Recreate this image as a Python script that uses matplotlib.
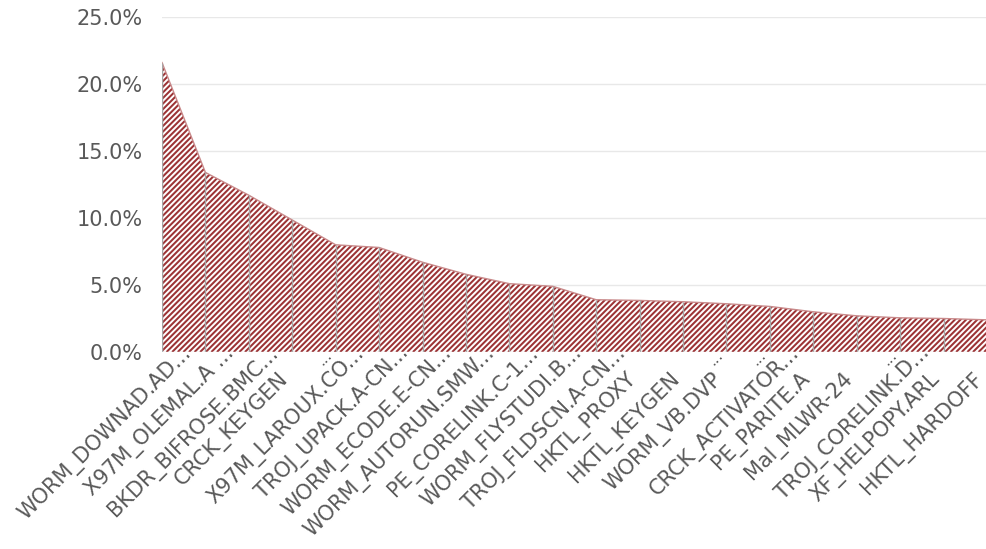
import numpy as np
import matplotlib.pyplot as plt
from matplotlib.collections import LineCollection
from matplotlib.ticker import PercentFormatter
from matplotlib.transforms import blended_transform_factory, ScaledTranslation

labels = ['WORM_DOWNAD.AD...', 'X97M_OLEMAL.A ...', 'BKDR_BIFROSE.BMC...',
          'CRCK_KEYGEN', 'X97M_LAROUX.CO...', 'TROJ_UPACK.A-CN...',
          'WORM_ECODE.E-CN...', 'WORM_AUTORUN.SMW...', 'PE_CORELINK.C-1...',
          'WORM_FLYSTUDI.B...', 'TROJ_FLDSCN.A-CN...', 'HKTL_PROXY',
          'HKTL_KEYGEN', 'WORM_VB.DVP', 'CRCK_ACTIVATOR...', 'PE_PARITE.A',
          'Mal_MLWR-24', 'TROJ_CORELINK.D...', 'XF_HELPOPY.ARL', 'HKTL_HARDOFF']
share = [21.6, 13.4, 11.7, 9.85, 8.0, 7.8, 6.7, 5.8, 5.1, 4.9,
         3.9, 3.85, 3.75, 3.6, 3.4, 3.0, 2.7, 2.55, 2.5, 2.4]
# labels whose wrapped first line only shows "..."
cut_lines = [4, 13, 14, 17]

red = '#9c3335'
grey_txt = '#595959'

W, H = 987, 549
ax_l, ax_b, ax_t = 162, 352, 17
fig = plt.figure(figsize=(W / 100, H / 100), dpi=100)
ax = fig.add_axes([ax_l / W, 1 - ax_b / H, 1 - ax_l / W, (ax_b - ax_t) / H])
aw, ah = W - ax_l, ax_b - ax_t  # axes size in px

x = np.arange(len(share))
y = np.array(share)

# horizontal gridlines
for v in np.arange(5, 26, 5):
    ax.axhline(v, color='#e8e8e8', lw=1, zorder=0)

area = ax.fill_between(x, 0, y, facecolor='white', linewidth=0, zorder=2)

# diagonal stripes (45 deg on screen), clipped to the area
step = 5.6 / aw
starts = np.arange(-0.05, 1 + ah / aw + 0.05, step)
segs = [[(s0, 1.0), (s0 - ah / aw, 0.0)] for s0 in starts]
stripes = LineCollection(segs, colors=red, linewidths=1.45,
                         transform=ax.transAxes, zorder=2.5)
ax.add_collection(stripes)
stripes.set_clip_path(area.get_paths()[0], ax.transData)

ax.plot(x, y, color='#c98a8b', lw=1, zorder=3)

# drop lines
ax.vlines(x, 0, y, color='#a6a6a6', lw=1, zorder=3)
ax.axhline(0, color='#d9d9d9', lw=1, zorder=4)

ax.set_xlim(0, len(share) - 1)
ax.set_ylim(0, 25)
ax.yaxis.set_major_formatter(PercentFormatter(decimals=1))
ax.set_yticks(np.arange(0, 26, 5))
ax.set_xticks(x)
ax.set_xticklabels([])

ax.tick_params(axis='both', length=0, labelsize=15, colors=grey_txt)
ax.tick_params(axis='y', pad=14)
for s in ax.spines.values():
    s.set_visible(False)

# category labels, rotated like Excel does it
base = blended_transform_factory(ax.transData, ax.transAxes)
for i, lab in enumerate(labels):
    if lab.endswith('...'):
        dx, dy = 26, 2
    else:
        dx, dy = -7, -24
    tr = base + ScaledTranslation(dx / 100, dy / 100, fig.dpi_scale_trans)
    ax.text(i, 0, lab, transform=tr, rotation=45, ha='right', va='center',
            rotation_mode='anchor', fontsize=15, color=grey_txt, clip_on=False)
for i in cut_lines:
    tr = base + ScaledTranslation(-6 / 100, 0, fig.dpi_scale_trans)
    ax.text(i, 0, '...', transform=tr, rotation=45, ha='right', va='center',
            rotation_mode='anchor', fontsize=11, color=grey_txt, clip_on=False)

fig.savefig('out.png', dpi=100)
